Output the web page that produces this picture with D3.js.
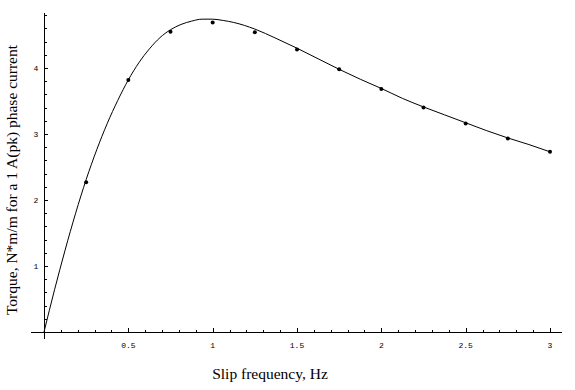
<!DOCTYPE html>
<html>
<head>
<meta charset="utf-8">
<script src="https://cdn.jsdelivr.net/npm/d3@7"></script>
<style>
  body { margin: 0; background: #fff; }
  .tick-label { font-family: "Liberation Mono", "Courier New", monospace; font-size: 8px; }
  .axis-title { font-family: "Liberation Serif", "Times New Roman", serif; font-size: 15.5px; }
</style>
</head>
<body>
<div id="chart"></div>
<script>
// measured torque points (slip frequency in Hz)
const pointX = [0.25, 0.5, 0.75, 1.0, 1.25, 1.5, 1.75, 2.0, 2.25, 2.5, 2.75, 3.0];
const pointY = [2.27, 3.82, 4.55, 4.69, 4.54, 4.28, 3.98, 3.68, 3.40, 3.16, 2.93, 2.73];

// fitted curve
const curveX = [0, 0.0625, 0.125, 0.1875, 0.25, 0.3125, 0.375, 0.4375, 0.5, 0.5625, 0.625, 0.6875,
  0.75, 0.8125, 0.875, 0.9375, 1.0, 1.0625, 1.125, 1.25, 1.375, 1.5, 1.625, 1.75, 1.875,
  2.0, 2.125, 2.25, 2.375, 2.5, 2.625, 2.75, 2.875, 3.0];
const curveY = [0, 0.64, 1.24, 1.80, 2.31, 2.76, 3.16, 3.51, 3.82, 4.08, 4.29, 4.46,
  4.58, 4.66, 4.71, 4.74, 4.74, 4.72, 4.69, 4.59, 4.45, 4.30, 4.14, 3.98, 3.83,
  3.69, 3.54, 3.41, 3.29, 3.17, 3.05, 2.94, 2.84, 2.73];

const xMajor = [0.5, 1, 1.5, 2, 2.5, 3];
const xTickLabels = ["0.5", "1", "1.5", "2", "2.5", "3"];
const yMajor = [1, 2, 3, 4];
const yTickLabels = ["1", "2", "3", "4"];

const xTitle = "Slip frequency, Hz";
const yTitle = "Torque, N*m/m for a 1 A(pk) phase current";

const width = 575, height = 390;

const svg = d3.select("#chart").append("svg")
  .attr("width", width)
  .attr("height", height);

const x = d3.scaleLinear().domain([0, 3]).range([44, 550]);
const y = d3.scaleLinear().domain([0, 4]).range([332, 68]);

// axis lines (extend a bit past the origin like the original)
const g = svg.append("g").attr("stroke", "#000").attr("stroke-width", 1).attr("shape-rendering", "crispEdges");
g.append("line").attr("x1", x(-0.077)).attr("x2", x(3.07)).attr("y1", y(0)).attr("y2", y(0));
g.append("line").attr("x1", x(0)).attr("x2", x(0)).attr("y1", y(-0.106)).attr("y2", y(4.83));

// x ticks: minor every 0.1, major every 0.5
const xMinor = d3.range(1, 31).map(i => i / 10);
g.selectAll(".xt").data(xMinor).enter().append("line")
  .attr("x1", d => Math.round(x(d)) + 0.5).attr("x2", d => Math.round(x(d)) + 0.5)
  .attr("y1", y(0)).attr("y2", d => y(0) - (Math.abs(d * 2 - Math.round(d * 2)) < 1e-6 ? 4 : 2.5));

// y ticks: minor every 0.2, major every 1
const yMinor = d3.range(1, 25).map(i => i / 5);
g.selectAll(".yt").data(yMinor).enter().append("line")
  .attr("y1", d => Math.round(y(d)) + 0.5).attr("y2", d => Math.round(y(d)) + 0.5)
  .attr("x1", x(0)).attr("x2", d => x(0) + (Math.abs(d - Math.round(d)) < 1e-6 ? 4 : 2.5));

// tick labels
svg.selectAll(".xl").data(xMajor).enter().append("text")
  .attr("class", "tick-label")
  .attr("x", d => x(d)).attr("y", 348)
  .attr("text-anchor", "middle")
  .text((d, i) => xTickLabels[i]);

svg.selectAll(".yl").data(yMajor).enter().append("text")
  .attr("class", "tick-label")
  .attr("x", 36).attr("y", d => y(d) + 3)
  .attr("text-anchor", "middle")
  .text((d, i) => yTickLabels[i]);

// axis titles
svg.append("text").attr("class", "axis-title")
  .attr("x", 270).attr("y", 379)
  .attr("text-anchor", "middle")
  .text(xTitle);

svg.append("text").attr("class", "axis-title")
  .attr("transform", "translate(17,180) rotate(-90)")
  .attr("text-anchor", "middle")
  .text(yTitle);

// fitted curve
const line = d3.line()
  .x(d => x(d[0]))
  .y(d => y(d[1]))
  .curve(d3.curveMonotoneX);

svg.append("path")
  .datum(curveX.map((v, i) => [v, curveY[i]]))
  .attr("fill", "none")
  .attr("stroke", "#000")
  .attr("stroke-width", 1)
  .attr("d", line);

// data points
svg.selectAll(".pt").data(pointX).enter().append("circle")
  .attr("cx", d => x(d))
  .attr("cy", (d, i) => y(pointY[i]))
  .attr("r", 2)
  .attr("fill", "#000");
</script>
</body>
</html>
